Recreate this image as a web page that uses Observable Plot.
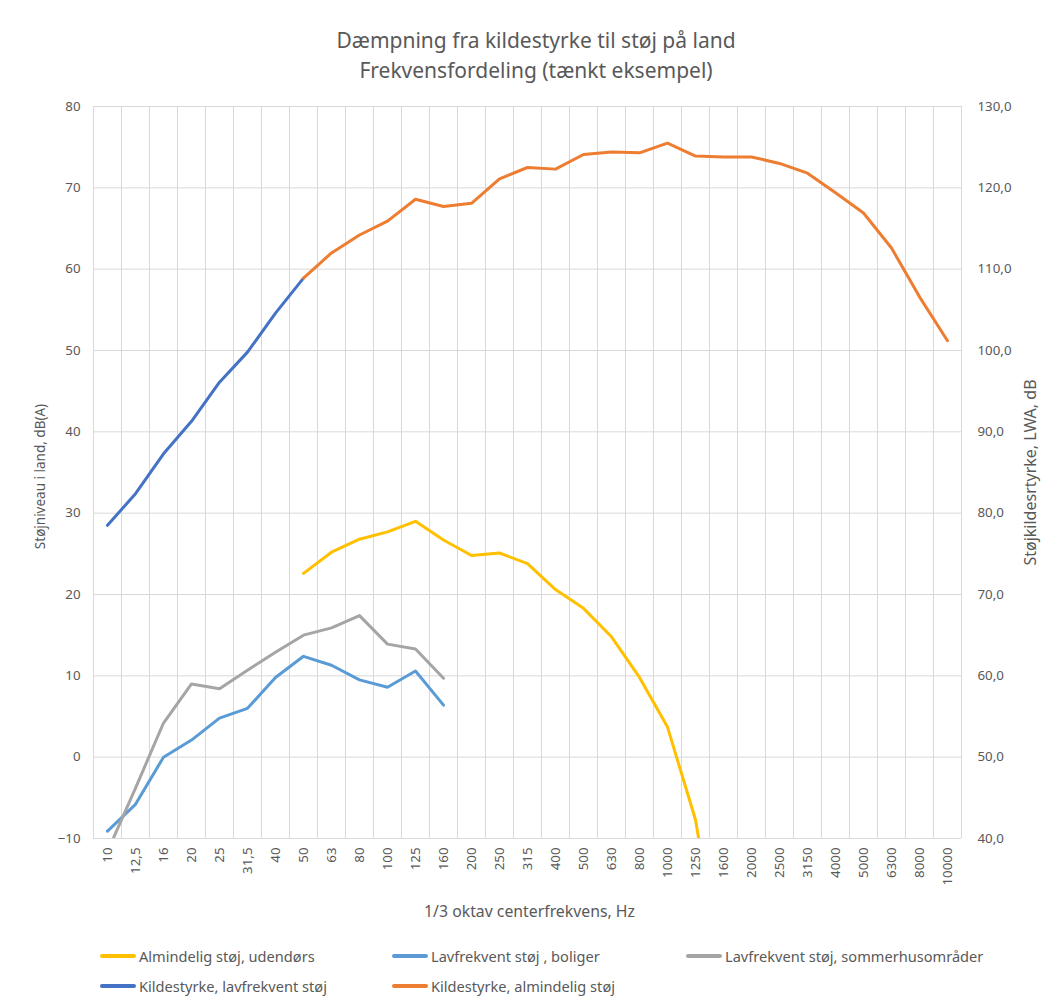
<!DOCTYPE html>
<html><head><meta charset="utf-8">
<script src="https://cdn.jsdelivr.net/npm/d3@7"></script>
<script src="https://cdn.jsdelivr.net/npm/@observablehq/plot@0.6"></script>
<style>
body{margin:0;background:#fff;font-family:"Noto Sans",sans-serif;color:#595959;}
#wrap{width:1054px;height:1003px;position:relative;overflow:hidden;background:#fff}
#title{height:90px;box-sizing:border-box;padding-top:25px;text-align:center;font-size:21px;line-height:30px;padding-left:18px}
#chart svg{display:block}
.item{position:absolute;font-size:14.6px;display:flex;align-items:center;height:20px;white-space:nowrap;color:#595959}
.sw{width:36px;height:4px;margin-right:3px;border-radius:2px}
</style></head><body>
<div id="wrap">
<div id="title">Dæmpning fra kildestyrke til støj på land<br>Frekvensfordeling (tænkt eksempel)</div>
<div id="chart"></div>
<div id="legend"></div>
</div>
<script>
// Categories (1/3 octave centre frequencies)
const freqLabels = ["10","12,5","16","20","25","31,5","40","50","63","80","100","125","160","200","250","315","400","500","630","800","1000","1250","1600","2000","2500","3150","4000","5000","6300","8000","10000"];

// Left axis series, dB(A)
const almindeligUdendors = [null,null,null,null,null,null,null,22.6,25.2,26.8,27.7,29.0,26.7,24.8,25.1,23.8,20.6,18.3,14.8,9.8,3.7,-7.7,-28,null,null,null,null,null,null,null,null];
const lavfrekventBoliger = [-9.1,-5.8,0.0,2.1,4.8,6.0,9.8,12.4,11.3,9.5,8.6,10.6,6.4,null,null,null,null,null,null,null,null,null,null,null,null,null,null,null,null,null,null];
const lavfrekventSommerhus = [-11.6,-3.8,4.2,9.0,8.4,10.7,12.9,15.0,15.9,17.4,13.9,13.3,9.7,null,null,null,null,null,null,null,null,null,null,null,null,null,null,null,null,null,null];

// Right axis series, LWA dB
const kildestyrkeLavfrekvent = [78.5,82.4,87.3,91.3,96.1,99.8,104.6,108.9,null,null,null,null,null,null,null,null,null,null,null,null,null,null,null,null,null,null,null,null,null,null,null];
const kildestyrkeAlmindelig = [null,null,null,null,null,null,null,108.9,112.0,114.2,115.9,118.6,117.7,118.1,121.1,122.5,122.3,124.1,124.4,124.3,125.5,123.9,123.8,123.8,123.0,121.8,119.4,116.9,112.6,106.6,101.2];

// Tick labels
const leftTicks = [-10,0,10,20,30,40,50,60,70,80];
const rightTicks = [40,50,60,70,80,90,100,110,120,130];
const RIGHT_OFFSET = 50; // right axis = left axis + 50

const seriesDefs = [
  {name:"Almindelig støj, udendørs", values: almindeligUdendors, color:"#FFC000", right:false},
  {name:"Lavfrekvent støj , boliger", values: lavfrekventBoliger, color:"#5B9BD5", right:false},
  {name:"Lavfrekvent støj, sommerhusområder", values: lavfrekventSommerhus, color:"#A5A5A5", right:false},
  {name:"Kildestyrke, lavfrekvent støj", values: kildestyrkeLavfrekvent, color:"#4472C4", right:true},
  {name:"Kildestyrke, almindelig støj", values: kildestyrkeAlmindelig, color:"#ED7D31", right:true}
];

const lineMarks = seriesDefs.map(s => {
  const rows = s.values.map((v,i)=>({i, v})).filter(d => d.v != null);
  return Plot.line(rows, {
    x: "i",
    y: d => s.right ? d.v - RIGHT_OFFSET : d.v,
    stroke: s.color, strokeWidth: 3, strokeLinejoin: "round", strokeLinecap: "round",
    clip: true
  });
});

const plot = Plot.plot({
  width: 1054, height: 848,
  marginTop: 16, marginLeft: 93, marginRight: 93, marginBottom: 100,
  style: {fontFamily: '"Noto Sans",sans-serif', fontSize: "13px", color: "#595959", background: "#fff", overflow: "visible"},
  x: {domain: [-0.5, freqLabels.length - 0.5]},
  y: {domain: [leftTicks[0], leftTicks[leftTicks.length-1]]},
  marks: [
    Plot.ruleX(d3.range(freqLabels.length + 1), {x: i => i - 0.5, stroke: "#D9D9D9", strokeWidth: 1}),
    Plot.ruleY(leftTicks, {stroke: "#D9D9D9", strokeWidth: 1}),
    Plot.axisY(leftTicks, {anchor: "left", tickSize: 0, tickPadding: 13, label: null, fill: "#595959", fontSize: 13.3}),
    Plot.axisY(rightTicks.map(v => v - RIGHT_OFFSET), {anchor: "right", tickSize: 0, tickPadding: 16, label: null, fill: "#595959", fontSize: 13.3,
      tickFormat: v => (v + RIGHT_OFFSET).toFixed(1).replace(".", ",")}),
    Plot.axisX(d3.range(freqLabels.length), {anchor: "bottom", tickSize: 0, tickPadding: 9, tickRotate: -90, label: null, fill: "#595959", fontSize: 13.3,
      tickFormat: i => freqLabels[i]}),
    ...lineMarks,
    Plot.text(["Støjniveau i land, dB(A)"], {frameAnchor: "left", textAnchor: "middle", lineAnchor: "middle", dx: -53, dy: 4, rotate: -90, fontSize: 13.5, fill: "#595959"}),
    Plot.text(["Støjkildesrtyrke, LWA, dB"], {frameAnchor: "right", textAnchor: "middle", lineAnchor: "middle", dx: 69, rotate: -90, fontSize: 16, fill: "#595959"}),
    Plot.text(["1/3 oktav centerfrekvens, Hz"], {frameAnchor: "bottom", textAnchor: "middle", lineAnchor: "middle", dy: 73, dx: 2, fontSize: 15.8, fill: "#595959"})
  ]
});
document.getElementById("chart").appendChild(plot);

// Legend
const legendPos = [[100,946],[392,946],[686,946],[100,976],[392,976]];
const legend = document.getElementById("legend");
legend.style.position = "absolute"; legend.style.left = "0"; legend.style.top = "0";
seriesDefs.forEach((s,k) => {
  const el = document.createElement("div");
  el.className = "item";
  el.style.left = legendPos[k][0] + "px";
  el.style.top = legendPos[k][1] + "px";
  el.innerHTML = `<span class="sw" style="background:${s.color}"></span><span>${s.name}</span>`;
  legend.appendChild(el);
});
</script>
</body></html>
